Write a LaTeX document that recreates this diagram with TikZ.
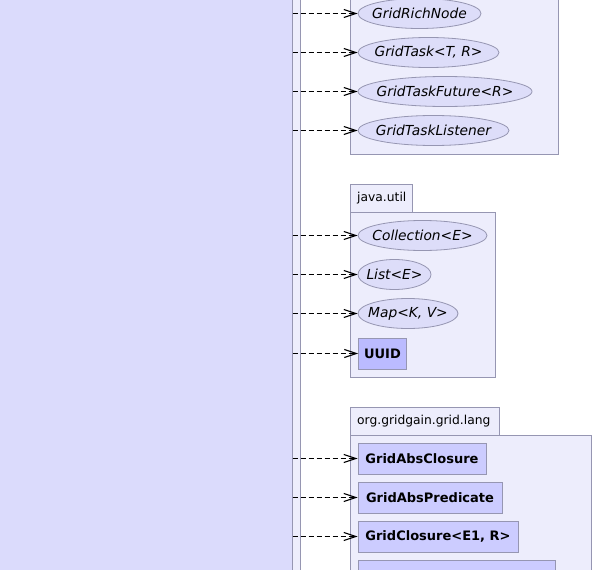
\documentclass[tikz,border=0pt]{standalone}
\usepackage{fontspec}
\setmainfont{DejaVu Sans}
\usetikzlibrary{arrows.meta,shapes.geometric}
\definecolor{bigfill}{RGB}{219,219,252}
\definecolor{pkgfill}{RGB}{237,237,252}
\definecolor{ellfill}{RGB}{221,221,249}
\definecolor{boxfill}{RGB}{204,204,255}
\definecolor{uuidfill}{RGB}{187,187,255}
\definecolor{edge}{RGB}{150,150,178}
\newcommand{\zw}[1]{\makebox[0pt]{#1}}
\tikzset{
  pkg/.style={draw=edge, fill=pkgfill, line width=0.9pt},
  iface/.style={ellipse, draw=edge, fill=ellfill, line width=0.8pt, inner sep=0pt,
    minimum height=30pt, font=\fontsize{13.8}{15}\selectfont\itshape},
  cls/.style={rectangle, draw=edge, fill=boxfill, line width=0.9pt, inner sep=0pt,
    minimum height=31pt, font=\fontsize{13}{15}\selectfont\bfseries},
  tabtext/.style={font=\fontsize{12.3}{14}\selectfont, anchor=west, inner sep=0pt},
  dep/.style={dash pattern=on 5pt off 3pt, line width=0.9pt,
    -{Straight Barb[length=12pt,width=8pt,line width=1.1pt]}},
}
\begin{document}
\begin{tikzpicture}[x=1pt,y=-1pt]
\useasboundingbox (0,0) rectangle (592,570);
\clip (0,0) rectangle (592,570);
% left class and strip
\draw[draw=edge, fill=bigfill, line width=0.9pt] (-10,-10) rectangle (292.5,580);
\draw[draw=edge, fill=pkgfill, line width=0.9pt] (292.5,-10) rectangle (300,580);
\coordinate (L) at (292.5,0);
% package 1
\draw[pkg] (350,-10) rectangle (558,154);
% package java.util
\draw[pkg] (350,184) rectangle (412.5,212);
\node[tabtext] (tjava) at (357,198) {java.util};
\draw[pkg] (350,212) rectangle (495,377);
% package org.gridgain.grid.lang
\draw[pkg] (350,407) rectangle (499,435);
\node[tabtext] (tlang) at (357,421) {org.gridgain.grid.lang};
\draw[pkg] (350,435) rectangle (591,590);
% interfaces
\node[iface, minimum width=123pt] (n1) at (419.5,13.5) {\zw{GridRichNode}};
\node[iface, minimum width=141pt] (n2) at (428.5,52.5) {\zw{GridTask<T, R>}};
\node[iface, minimum width=174pt] (n3) at (445,91.5) {\zw{GridTaskFuture<R>}};
\node[iface, minimum width=151pt] (n4) at (433.5,130.5) {\zw{GridTaskListener}};
\node[iface, minimum width=129pt] (n5) at (422.5,235.5) {\zw{Collection<E>}};
\node[iface, minimum width=73pt] (n6) at (394.5,274.5) {\zw{List<E>}};
\node[iface, minimum width=100pt] (n7) at (408,313.5) {\zw{Map<K, V>}};
% classes
\node[cls, fill=uuidfill, minimum width=48pt] (n8) at (382.5,353.5) {UUID};
\node[cls, minimum width=128pt] (n9) at (422,458.5) {GridAbsClosure};
\node[cls, minimum width=144pt] (n10) at (430,497.5) {GridAbsPredicate};
\node[cls, minimum width=160pt] (n11) at (438,536.5) {GridClosure<E1, R>};
\draw[draw=edge, fill=boxfill, line width=0.9pt] (358,560) rectangle (555,600);
% dependencies
\foreach \n in {n1,n2,n3,n4,n5,n6,n7,n8,n9,n10,n11}{
  \draw[dep] (L |- \n.west) -- (\n.west);
}
\end{tikzpicture}
\end{document}
